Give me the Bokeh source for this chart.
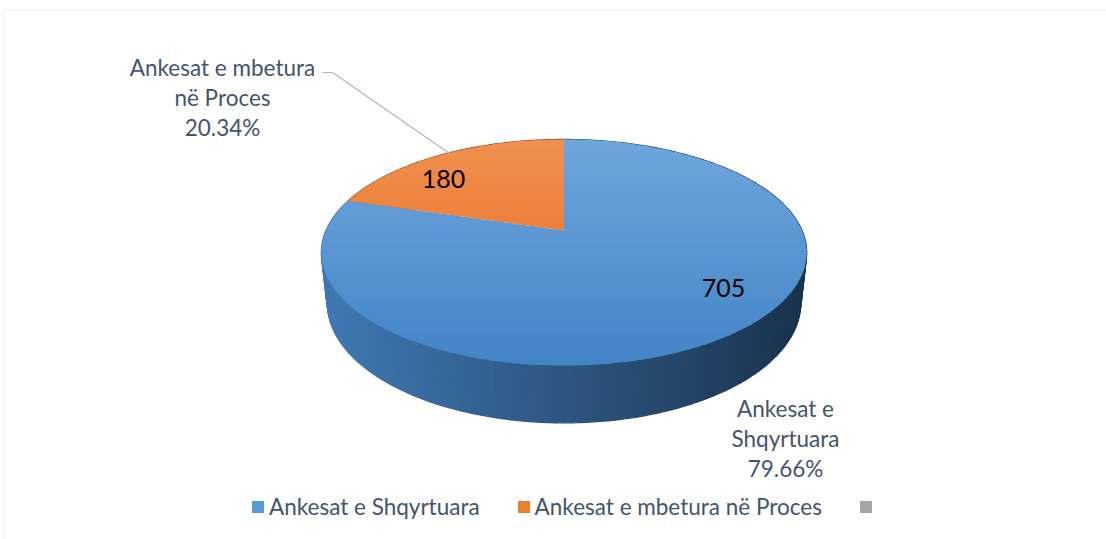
import numpy as np
from bokeh.plotting import figure
from bokeh.models import Range1d, Legend, LegendItem, BoxAnnotation
from bokeh.core.properties import value
from bokeh.embed import file_html
from bokeh.resources import INLINE

# ---------------- data ----------------
categories = ["Ankesat e Shqyrtuara", "Ankesat e mbetura në Proces"]
counts = [705, 180]
category_wrapped = ["Ankesat e\nShqyrtuara", "Ankesat e mbetura\nnë Proces"]
legend_labels = ["Ankesat e Shqyrtuara", "Ankesat e mbetura në Proces", ""]

# ---------------- style / layout ----------------
FONT = "Lato"
TEXT_COLOR = "#44546A"
top_grad = [("#6EA6DD", "#4384C6"), ("#F0904F", "#E6661B")]
side_grad = [("#4079B4", "#1A334E"), ("#B0541A", "#6E3210")]
legend_colors = ["#5B9BD5", "#ED7D31", "#A5A5A5"]

W, HF = 1106, 539
CX, CY = 563.5, 230.0          # projected pie centre (px)
R = 238.0                      # radius
ALPHA = np.radians(27.2)       # tilt
DIST = 1087.0                  # perspective distance
DEPTH = 57.0                   # extrusion
sa, ca = np.sin(ALPHA), np.cos(ALPHA)

cat_label_pos = [(785, 438), (222, 97)]
val_label_pos = [(723, 287), (443, 178)]


def project(theta, h):
    X = R * np.cos(theta)
    Z = R * np.sin(theta)
    yp = Z * sa + h * ca
    zp = Z * ca - h * sa
    f = DIST / (DIST + zp)
    return CX + X * f, CY - yp * f


def hex2rgb(h):
    h = h.lstrip("#")
    return np.array([int(h[i:i + 2], 16) for i in (0, 2, 4)], dtype=float)


def lerp(c0, c1, t):
    t = min(max(t, 0.0), 1.0)
    c = hex2rgb(c0) * (1 - t) + hex2rgb(c1) * t
    return "#%02x%02x%02x" % tuple(int(round(v)) for v in c)


def clip(poly, y, keep_ge):
    out = []
    n = len(poly)
    for i in range(n):
        P, Q = poly[i], poly[(i + 1) % n]
        inP = P[1] >= y if keep_ge else P[1] <= y
        inQ = Q[1] >= y if keep_ge else Q[1] <= y
        if inP:
            out.append(P)
        if inP != inQ:
            t = (y - P[1]) / (Q[1] - P[1])
            out.append((P[0] + t * (Q[0] - P[0]), y))
    return out


total = float(sum(counts))
fracs = [c / total for c in counts]
bounds = []
a = np.pi / 2
for fr in fracs:
    bounds.append((a - 2 * np.pi * fr, a))
    a -= 2 * np.pi * fr

p = figure(width=W, height=HF, x_range=Range1d(0, W), y_range=Range1d(HF, 0),
           output_backend="svg", toolbar_location=None, min_border=0,
           x_axis_location=None, y_axis_location=None)
p.grid.visible = False
p.outline_line_color = None
p.background_fill_color = "white"
p.border_fill_color = "white"

# chart-area border (top and left edges visible)
p.add_layout(BoxAnnotation(left=3.5, top=9.5, right=W + 20, bottom=HF + 20,
                           fill_alpha=0, line_color="#D9D9D9", line_width=1.3))

# ---- side (extruded rim) ----
full = np.linspace(0, 2 * np.pi, 721)
ex, ey = project(full, 0.0)
xmin, xmax = ex.min(), ex.max()
quads = []
for i, (lo, hi) in enumerate(bounds):
    ths = np.linspace(lo, hi, max(int(np.degrees(hi - lo) / 1.5), 2) + 1)
    for t0, t1 in zip(ths[:-1], ths[1:]):
        x0, y0 = project(t0, 0.0)
        x1, y1 = project(t1, 0.0)
        x2, y2 = project(t1, -DEPTH)
        x3, y3 = project(t0, -DEPTH)
        depth_key = np.sin((t0 + t1) / 2)
        tc = ((x0 + x1) / 2 - xmin) / (xmax - xmin)
        col = lerp(side_grad[i][0], side_grad[i][1], tc)
        quads.append((depth_key, [x0, x1, x2, x3], [y0, y1, y2, y3], col))
quads.sort(key=lambda q: -q[0])
p.patches([q[1] for q in quads], [q[2] for q in quads], fill_color=[q[3] for q in quads],
          line_color=[q[3] for q in quads], line_width=1.3)

# ---- top faces with vertical gradient ----
ytop, ybot = ey.min(), ey.max()
band_xs, band_ys, band_cols = [], [], []
nb = 80
edges = np.linspace(ytop - 1, ybot + 1, nb + 1)
for i, (lo, hi) in enumerate(bounds):
    ths = np.linspace(lo, hi, 200)
    ax, ay = project(ths, 0.0)
    poly = [(CX, CY)] + list(zip(ax, ay))
    for b in range(nb):
        y0, y1 = edges[b], edges[b + 1]
        cp = clip(clip(poly, y0 - 0.6, True), y1 + 0.6, False)
        if len(cp) < 3:
            continue
        col = lerp(top_grad[i][0], top_grad[i][1], ((y0 + y1) / 2 - ytop) / (ybot - ytop))
        band_xs.append([q[0] for q in cp])
        band_ys.append([q[1] for q in cp])
        band_cols.append(col)
p.patches(band_xs, band_ys, fill_color=band_cols, line_color=None)

# ---- leader line for the small slice ----
p.line([322, 332, 449], [72, 72, 153], line_color="#A9B7C9", line_width=1.2)

# ---- value labels ----
p.text([q[0] for q in val_label_pos], [q[1] for q in val_label_pos],
       text=[str(c) for c in counts], text_font=value(FONT), text_font_size="25px",
       text_color="black", text_align="center", text_baseline="middle")

# ---- category labels ----
pcts = ["%.2f%%" % (100 * c / total) for c in counts]
p.text([q[0] for q in cat_label_pos], [q[1] for q in cat_label_pos],
       text=[w + "\n" + pc for w, pc in zip(category_wrapped, pcts)],
       text_font=value(FONT), text_font_size="22.5px", text_color=TEXT_COLOR,
       text_align="center", text_baseline="middle", text_line_height=1.1)

# ---- legend ----
items = []
for lab, col in zip(legend_labels, legend_colors):
    r = p.quad(left=[CX], right=[CX], top=[CY], bottom=[CY], fill_color=col, line_color=None)
    items.append(LegendItem(label=lab, renderers=[r]))
legend = Legend(items=items, orientation="horizontal", location=(250, 19),
                glyph_width=15, glyph_height=15, label_standoff=4, spacing=36,
                label_text_font=FONT, label_text_font_size="22.5px", label_text_color=TEXT_COLOR,
                padding=0, margin=0, border_line_color=None, background_fill_alpha=0)
p.add_layout(legend, "center")

open("out.html", "w").write(file_html(p, INLINE))
